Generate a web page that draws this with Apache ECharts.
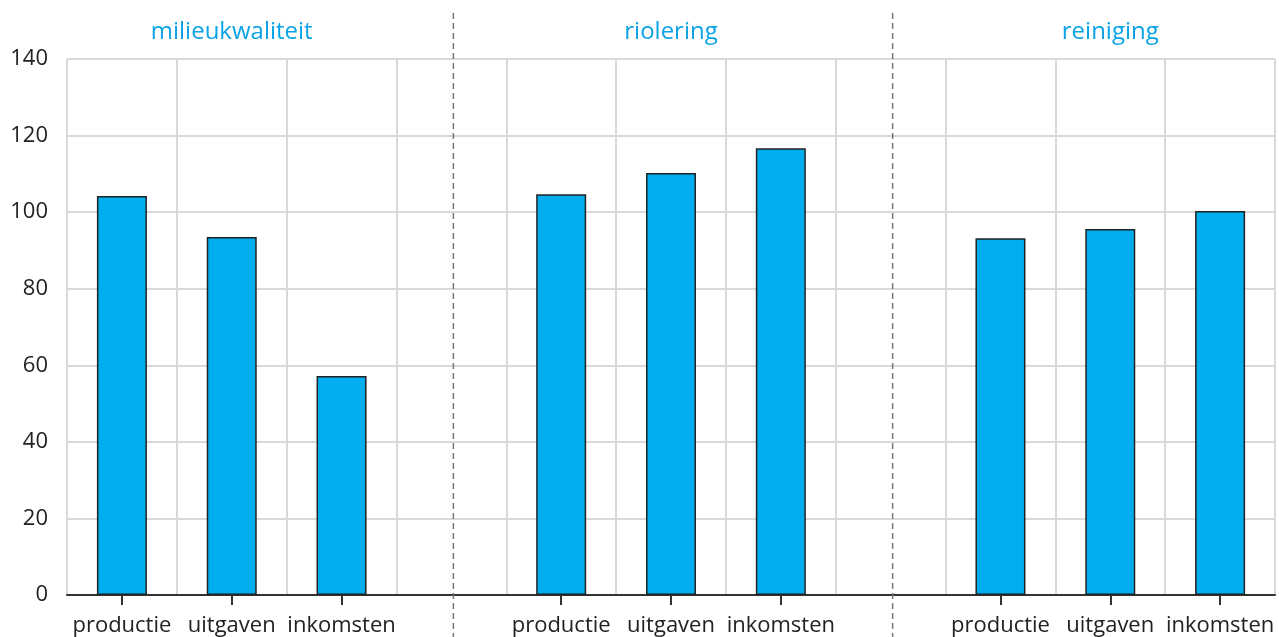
<!DOCTYPE html>
<html>
<head>
<meta charset="utf-8">
<script src="https://cdn.jsdelivr.net/npm/echarts@6/dist/echarts.min.js"></script>
<style>
  html, body { margin: 0; padding: 0; background: #fff; }
  #chart { width: 1279px; height: 637px; }
</style>
</head>
<body>
<div id="chart"></div>
<script>
// categories (empty slots separate the three groups)
const categories = ['productie', 'uitgaven', 'inkomsten', '', 'productie', 'uitgaven', 'inkomsten', '', 'productie', 'uitgaven', 'inkomsten']
const groupTitles = ['', 'milieukwaliteit', '', '', '', 'riolering', '', '', '', 'reiniging', '']
const values = [104.2, 93.5, 57.2, null, 104.7, 110.2, 116.7, null, 93.2, 95.6, 100.3]
const separatorIndexes = [3, 7]
const yTicks = { min: 0, max: 140, interval: 20 }

const font = 'Open Sans'
const chart = echarts.init(document.getElementById('chart'))

const option = {
  animation: false,
  grid: { left: 67, right: 4, top: 59, bottom: 42 },
  xAxis: [
    {
      type: 'category',
      data: categories,
      axisLine: { show: true, lineStyle: { color: '#333', width: 2 } },
      axisTick: {
        show: true,
        inside: false,
        alignWithLabel: true,
        length: 10,
        interval: (i) => categories[i] !== '',
        lineStyle: { color: '#333', width: 2 }
      },
      axisLabel: { interval: 0, margin: 20, fontFamily: font, fontSize: 22, color: '#222' },
      splitLine: { show: true, interval: 0, lineStyle: { color: '#d9d9d9', width: 2 } }
    },
    {
      type: 'category',
      position: 'top',
      data: groupTitles,
      axisLine: { show: false },
      axisTick: { show: false },
      axisLabel: { interval: 0, margin: 15, fontFamily: font, fontSize: 24, color: '#0aa3e6' }
    }
  ],
  yAxis: {
    type: 'value',
    min: yTicks.min,
    max: yTicks.max,
    interval: yTicks.interval,
    axisLine: { show: false },
    axisTick: { show: false },
    axisLabel: { margin: 19, fontFamily: font, fontSize: 22, color: '#222' },
    splitLine: { lineStyle: { color: '#d9d9d9', width: 2 } }
  },
  series: [
    {
      type: 'bar',
      data: values,
      barWidth: 50,
      itemStyle: { color: '#00adee', borderColor: '#222', borderWidth: 1.5 }
    },
    {
      // dashed separators between the groups
      type: 'custom',
      data: separatorIndexes.map(i => [i, 0]),
      clip: false,
      silent: true,
      renderItem: (params, api) => {
        const i = api.value(0)
        const p1 = api.coord([i, 152])
        const p2 = api.coord([i, -12])
        return {
          type: 'line',
          shape: { x1: p1[0] + 2, y1: p1[1], x2: p2[0] + 2, y2: p2[1] },
          style: { stroke: '#777', lineWidth: 1.5, lineDash: [6, 4] }
        }
      }
    }
  ]
}

chart.setOption(option)
</script>
</body>
</html>
